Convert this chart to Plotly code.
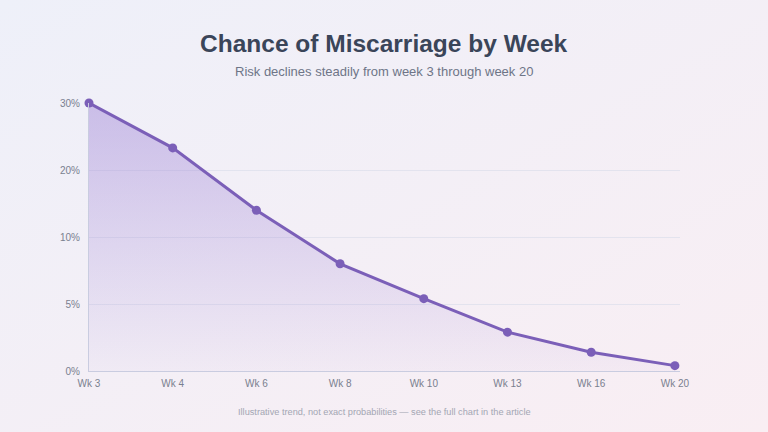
import plotly.graph_objects as go

weeks = ["Wk 3", "Wk 4", "Wk 6", "Wk 8", "Wk 10", "Wk 13", "Wk 16", "Wk 20"]
risk_pct = [30.0, 23.3, 14.0, 8.0, 5.4, 2.9, 1.4, 0.4]
tick_values_pct = [0, 5, 10, 20, 30]
tick_labels = ["0%", "5%", "10%", "20%", "30%"]


def scale(v):
    # piecewise scale used by the original chart (equal spacing for 0,5,10,20,30)
    if v <= 10:
        return v / 5.0
    return 2 + (v - 10) / 10.0


xpos = list(range(len(weeks)))
ypos = [scale(v) for v in risk_pct]

fig = go.Figure()
fig.add_trace(go.Scatter(
    x=xpos, y=ypos, mode="lines+markers",
    line=dict(color="#7b5fb8", width=3),
    marker=dict(size=9, color="#7b5fb8"),
    fill="tozeroy",
    fillgradient=dict(type="vertical",
                      colorscale=[[0, "rgba(150,120,210,0.04)"], [1, "rgba(150,120,210,0.42)"]]),
    cliponaxis=False,
    hoverinfo="skip",
))

bg_svg = ("data:image/svg+xml;utf8,<svg xmlns='http://www.w3.org/2000/svg' width='768' height='432'>"
          "<defs><linearGradient id='g' x1='0' y1='0' x2='1' y2='1'>"
          "<stop offset='0' stop-color='%23eef0f9'/><stop offset='1' stop-color='%23f9eef3'/>"
          "</linearGradient></defs><rect width='768' height='432' fill='url(%23g)'/></svg>")

L, R, T, B = 89, 88, 103, 61
W, H = 768, 432
pw, ph = W - L - R, H - T - B

fig.add_layout_image(dict(
    source=bg_svg, xref="paper", yref="paper",
    x=-L / pw, y=1 + T / ph, sizex=W / pw, sizey=H / ph,
    sizing="stretch", layer="below", xanchor="left", yanchor="top",
))

fig.update_layout(
    width=W, height=H,
    margin=dict(l=L, r=R, t=T, b=B),
    paper_bgcolor="#f3f0f6", plot_bgcolor="rgba(0,0,0,0)",
    showlegend=False,
    font=dict(family="Liberation Sans, Arial, sans-serif"),
    xaxis=dict(
        range=[0, pw / 83.7], tickmode="array", tickvals=xpos, ticktext=weeks,
        showgrid=False, zeroline=False, showline=True, linecolor="#c9cce0", linewidth=1,
        tickfont=dict(size=10, color="#7a7f8f"), ticks="outside", ticklen=3,
        tickcolor="rgba(0,0,0,0)",
    ),
    yaxis=dict(
        range=[0, 4], tickmode="array", tickvals=[scale(v) for v in tick_values_pct], ticktext=tick_labels,
        showgrid=True, gridcolor="rgba(220,222,235,0.7)", gridwidth=1, zeroline=False,
        showline=True, linecolor="#c9cce0", linewidth=1,
        tickfont=dict(size=10, color="#7a7f8f"), ticks="outside", ticklen=6,
        tickcolor="rgba(0,0,0,0)",
    ),
    annotations=[
        dict(text="<b>Chance of Miscarriage by Week</b>", xref="paper", yref="paper",
             x=(W / 2 - L) / pw, y=1 + (T - 43) / ph, xanchor="center", yanchor="middle",
             showarrow=False, font=dict(size=24.5, color="#3a4559")),
        dict(text="Risk declines steadily from week 3 through week 20", xref="paper", yref="paper",
             x=(W / 2 - L) / pw, y=1 + (T - 71) / ph, xanchor="center", yanchor="middle",
             showarrow=False, font=dict(size=13, color="#6e7587")),
        dict(text="Illustrative trend, not exact probabilities — see the full chart in the article",
             xref="paper", yref="paper",
             x=(W / 2 - L) / pw, y=-(412 - (H - B)) / ph, xanchor="center", yanchor="middle",
             showarrow=False, font=dict(size=9.2, color="#a3a6b3")),
    ],
)

fig.write_html("out.html")
